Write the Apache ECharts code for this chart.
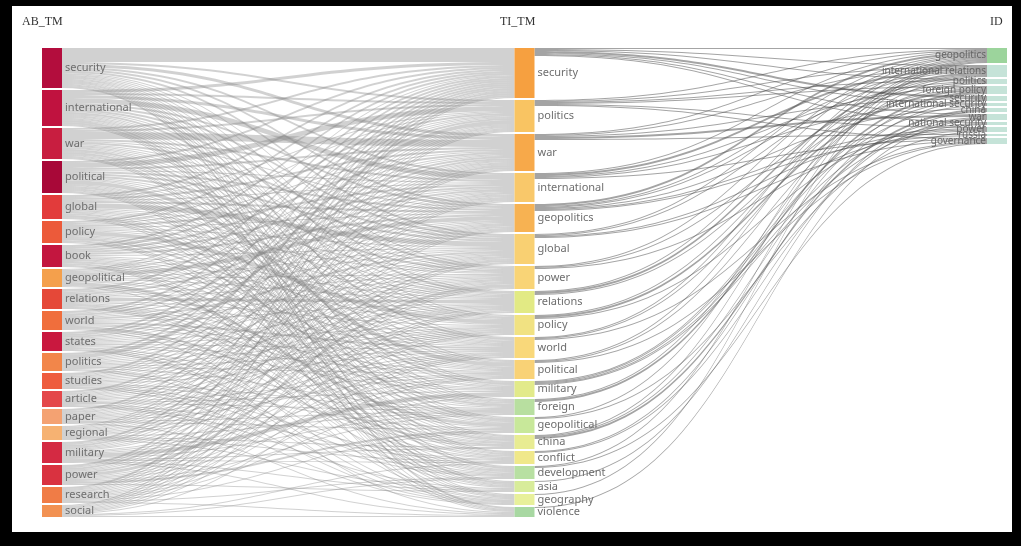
<!DOCTYPE html>
<html>
<head>
<meta charset="utf-8">
<title>Three-field plot</title>
<script src="https://cdn.jsdelivr.net/npm/echarts@6/dist/echarts.min.js"></script>
<style>
  html, body { margin: 0; padding: 0; background: #000; }
  #chart { width: 1021px; height: 546px; }
</style>
</head>
<body>
<div id="chart"></div>
<script>
// Three-field plot: abstract terms -> title terms -> keywords

const fieldNames = ['AB_TM', 'TI_TM', 'ID']

const abTerms = ['security', 'international', 'war', 'political', 'global', 'policy', 'book',
  'geopolitical', 'relations', 'world', 'states', 'politics', 'studies', 'article', 'paper',
  'regional', 'military', 'power', 'research', 'social']

const tiTerms = ['security', 'politics', 'war', 'international', 'geopolitics', 'global', 'power',
  'relations', 'policy', 'world', 'political', 'military', 'foreign', 'geopolitical', 'china',
  'conflict', 'development', 'asia', 'geography', 'violence']

const idTerms = ['geopolitics', 'international relations', 'politics', 'foreign policy', 'security',
  'international security', 'china', 'war', 'national security', 'power', 'russia', 'governance']

// rows: abTerms, columns: tiTerms
const abToTi = [
  [14, 2, 3, 2, 2, 2, 1, 1, 1, 1, 1, 1, 1, 1, 1, 1, 1, 1, 1, 2],
  [3, 2, 3, 5, 2, 2, 2, 2, 1, 2, 1, 1, 1, 1, 1, 1, 2, 2, 1, 1],
  [2, 2, 7, 2, 1, 2, 1, 1, 1, 1, 1, 2, 1, 2, 1, 1, 0, 1, 1, 1],
  [2, 5, 2, 1, 2, 2, 2, 1, 1, 1, 4, 1, 1, 1, 1, 1, 1, 1, 1, 1],
  [2, 1, 2, 1, 2, 5, 1, 1, 1, 1, 1, 0, 1, 1, 2, 0, 1, 1, 0, 0],
  [2, 1, 1, 2, 1, 1, 1, 1, 4, 1, 1, 1, 2, 0, 1, 1, 1, 0, 0, 0],
  [2, 2, 2, 2, 2, 1, 0, 1, 1, 1, 1, 1, 1, 1, 0, 1, 1, 1, 1, 0],
  [1, 1, 1, 1, 4, 1, 1, 1, 0, 1, 1, 0, 0, 3, 1, 0, 0, 0, 1, 0],
  [2, 1, 1, 2, 1, 1, 1, 3, 1, 1, 0, 1, 1, 1, 1, 1, 1, 0, 0, 0],
  [2, 1, 2, 1, 1, 2, 1, 1, 0, 2, 1, 1, 0, 0, 2, 1, 0, 0, 1, 0],
  [2, 2, 2, 1, 1, 1, 1, 1, 1, 1, 1, 1, 0, 0, 1, 0, 1, 0, 1, 1],
  [2, 4, 1, 1, 1, 1, 1, 1, 1, 1, 1, 0, 1, 0, 0, 0, 1, 0, 1, 0],
  [2, 1, 1, 1, 1, 1, 1, 1, 1, 1, 0, 0, 1, 1, 0, 1, 1, 0, 1, 0],
  [2, 1, 1, 1, 1, 1, 1, 1, 1, 0, 1, 1, 1, 0, 0, 1, 0, 1, 1, 0],
  [2, 1, 1, 1, 1, 1, 1, 1, 1, 1, 1, 0, 1, 1, 0, 0, 0, 0, 0, 1],
  [1, 1, 1, 1, 1, 1, 1, 1, 1, 1, 0, 0, 1, 0, 1, 1, 0, 1, 0, 0],
  [2, 1, 2, 1, 1, 1, 1, 0, 1, 1, 1, 4, 1, 0, 1, 1, 0, 1, 0, 1],
  [2, 1, 2, 1, 1, 2, 3, 1, 1, 1, 1, 0, 1, 2, 0, 0, 0, 1, 0, 0],
  [2, 1, 1, 1, 1, 1, 1, 1, 1, 1, 1, 1, 0, 1, 0, 0, 1, 0, 0, 1],
  [1, 1, 1, 1, 1, 1, 1, 1, 0, 1, 0, 0, 0, 0, 0, 1, 1, 0, 0, 1]
]

// rows: tiTerms, columns: idTerms
const tiToId = [
  [1, 1, 1, 0, 2, 1, 0, 1, 1, 0, 0, 0],
  [1, 1, 1, 1, 0, 0, 0, 0, 0, 1, 0, 1],
  [1, 1, 0, 0, 1, 0, 0, 2, 0, 0, 1, 0],
  [1, 2, 0, 1, 0, 1, 0, 0, 0, 0, 0, 1],
  [2, 1, 1, 0, 0, 0, 1, 0, 0, 1, 1, 0],
  [1, 1, 0, 0, 0, 0, 0, 0, 0, 1, 0, 1],
  [1, 0, 1, 0, 0, 0, 0, 0, 0, 1, 0, 0],
  [1, 2, 0, 1, 0, 0, 0, 0, 0, 0, 0, 0],
  [0, 1, 0, 2, 0, 0, 0, 0, 1, 0, 0, 0],
  [1, 1, 0, 0, 0, 0, 0, 0, 0, 0, 0, 1],
  [1, 0, 1, 0, 0, 0, 0, 0, 0, 0, 0, 1],
  [0, 0, 0, 0, 1, 1, 0, 1, 1, 0, 0, 0],
  [0, 1, 0, 2, 0, 0, 0, 0, 0, 0, 0, 0],
  [1, 0, 0, 0, 0, 0, 0, 0, 0, 1, 0, 0],
  [1, 0, 0, 1, 0, 0, 2, 0, 0, 0, 0, 0],
  [0, 0, 0, 0, 1, 0, 0, 1, 0, 0, 0, 0],
  [1, 0, 0, 0, 0, 0, 0, 0, 0, 0, 0, 1],
  [0, 0, 0, 0, 0, 0, 1, 0, 0, 0, 0, 0],
  [1, 0, 0, 0, 0, 0, 0, 0, 0, 0, 0, 0],
  [0, 0, 0, 0, 0, 0, 0, 1, 0, 0, 0, 0]
]

const abColors = ['#b30d3d', '#c0123f', '#c81e40', '#a80838', '#e23b3b', '#ec5a3a', '#c3163f',
  '#f4a04c', '#e54838', '#f06e3c', '#c9183f', '#f2864a', '#ee5c3e', '#e4474a', '#f4a272',
  '#f6b272', '#d42a43', '#d93240', '#f07c46', '#f29152']
const tiColors = ['#f6a040', '#f9c462', '#f7a94a', '#f9c86a', '#f7b252', '#f9d072', '#f9d476',
  '#e2ea84', '#f1e282', '#f9d87a', '#f9d276', '#e2ea8a', '#b8dfa0', '#c8e89a', '#e8ec92',
  '#f0e88a', '#b8e0a2', '#d8ec9a', '#e8f09a', '#a8d8a2']
const idColors = ['#9cd49c', '#c5e3d8', '#c5e3d8', '#c5e3d8', '#c5e3d8', '#c5e3d8', '#c5e3d8',
  '#c5e3d8', '#c5e3d8', '#c5e3d8', '#c5e3d8', '#c5e3d8']

const prefix = ['AB|', 'TI|', 'ID|']

const nodes = []
abTerms.forEach((t, i) => nodes.push({ name: prefix[0] + t, itemStyle: { color: abColors[i] } }))
tiTerms.forEach((t, i) => nodes.push({ name: prefix[1] + t, itemStyle: { color: tiColors[i] } }))
idTerms.forEach((t, i) => nodes.push({
  name: prefix[2] + t,
  itemStyle: { color: idColors[i] },
  label: { position: 'left', fontSize: 10, color: '#666', distance: 1 }
}))

const links = []
abToTi.forEach((row, i) => row.forEach((v, j) => {
  if (v > 0) links.push({ source: prefix[0] + abTerms[i], target: prefix[1] + tiTerms[j], value: v })
}))
tiToId.forEach((row, i) => row.forEach((v, j) => {
  if (v > 0) {
    links.push({
      source: prefix[1] + tiTerms[i],
      target: prefix[2] + idTerms[j],
      value: v,
      lineStyle: { color: '#4a4a4a', opacity: 0.5 }
    })
  }
}))

const chart = echarts.init(document.getElementById('chart'))

chart.setOption({
  backgroundColor: '#000',
  animation: false,
  graphic: [
    { type: 'rect', z: -10, shape: { x: 12, y: 6, width: 1000, height: 526 }, style: { fill: '#fff' } },
    { type: 'text', z: 10, left: 22, top: 16, style: { text: fieldNames[0], font: '12px "Liberation Serif"', fill: '#333' } },
    { type: 'text', z: 10, left: 500, top: 16, style: { text: fieldNames[1], font: '12px "Liberation Serif"', fill: '#333' } },
    { type: 'text', z: 10, left: 990, top: 16, style: { text: fieldNames[2], font: '12px "Liberation Serif"', fill: '#333' } }
  ],
  series: [{
    type: 'sankey',
    left: 42,
    right: 14,
    top: 48,
    bottom: 29,
    nodeWidth: 20,
    nodeGap: 2,
    layoutIterations: 0,
    draggable: false,
    emphasis: { disabled: true },
    data: nodes,
    links: links,
    itemStyle: { borderWidth: 0 },
    lineStyle: { color: '#858585', opacity: 0.38, curveness: 0.5 },
    label: {
      position: 'right',
      distance: 3,
      fontSize: 11,
      fontFamily: 'Noto Sans',
      color: '#6e6e6e',
      formatter: (p) => p.name.split('|')[1]
    }
  }]
})
</script>
</body>
</html>
